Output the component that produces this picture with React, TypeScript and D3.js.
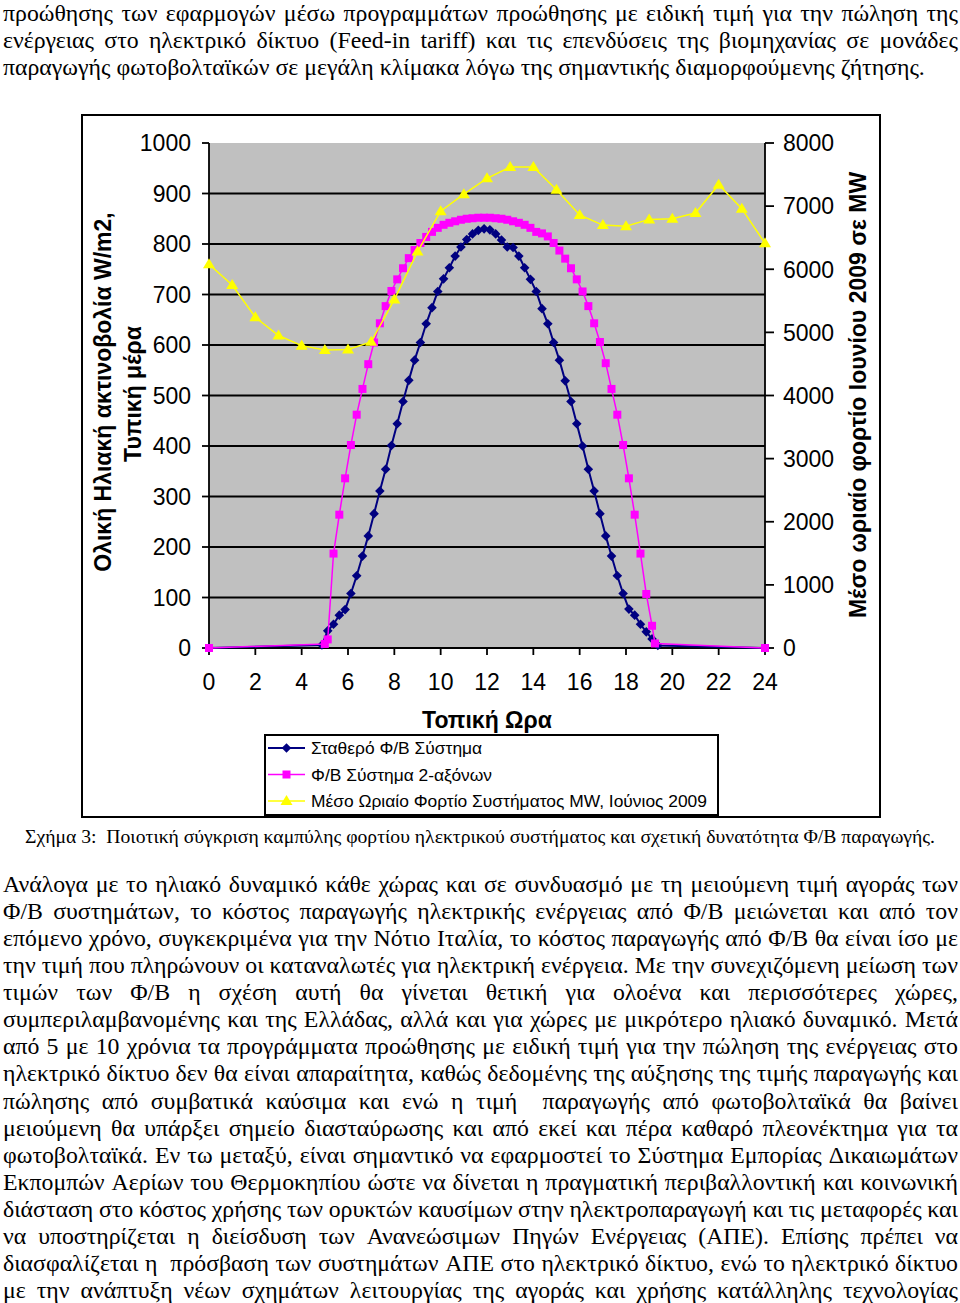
import React, { useMemo } from 'react';
import * as d3 from 'd3';

// ---------------- DATA ----------------
const xTicks = [0, 2, 4, 6, 8, 10, 12, 14, 16, 18, 20, 22, 24];
const leftTicks = [0, 100, 200, 300, 400, 500, 600, 700, 800, 900, 1000];
const rightTicks = [0, 1000, 2000, 3000, 4000, 5000, 6000, 7000, 8000];

const seriesNames = [
  'Σταθερό Φ/Β Σύστημα',
  'Φ/Β Σύστημα 2-αξόνων',
  'Μέσο Ωριαίο Φορτίο Συστήματος MW, Ιούνιος 2009',
];

// Fixed PV system (W/m2)
const fixedHours = [
  0, 4.875, 5.125, 5.375, 5.625, 5.875, 6.125, 6.375, 6.625, 6.875, 7.125, 7.375, 7.625, 7.875,
  8.125, 8.375, 8.625, 8.875, 9.125, 9.375, 9.625, 9.875, 10.125, 10.375, 10.625, 10.875,
  11.125, 11.375, 11.625, 11.875, 12.125, 12.375, 12.625, 12.875, 13.125, 13.375, 13.625,
  13.875, 14.125, 14.375, 14.625, 14.875, 15.125, 15.375, 15.625, 15.875, 16.125, 16.375,
  16.625, 16.875, 17.125, 17.375, 17.625, 17.875, 18.125, 18.375, 18.625, 18.875, 19.125,
  19.375, 24,
];
const fixedValues = [
  0, 6, 34, 47, 65, 76, 108, 143, 182, 222, 266, 311, 354, 401,
  444, 488, 530, 570, 605, 642, 674, 706, 731, 753, 776, 794,
  809, 820, 827, 830, 828, 820, 808, 794, 793, 776, 753,
  730, 706, 672, 642, 605, 570, 529, 488, 444, 400, 354,
  311, 266, 222, 182, 143, 108, 77, 65, 47, 32, 18,
  5, 0,
];

// 2-axis tracking PV system (W/m2)
const trackHours = [
  0, 5.0, 5.125, 5.375, 5.625, 5.875, 6.125, 6.375, 6.625, 6.875, 7.125, 7.375, 7.625, 7.875,
  8.125, 8.375, 8.625, 8.875, 9.125, 9.375, 9.625, 9.875, 10.125, 10.375, 10.625, 10.875,
  11.125, 11.375, 11.625, 11.875, 12.125, 12.375, 12.625, 12.875, 13.125, 13.375, 13.625,
  13.875, 14.125, 14.375, 14.625, 14.875, 15.125, 15.375, 15.625, 15.875, 16.125, 16.375,
  16.625, 16.875, 17.125, 17.375, 17.625, 17.875, 18.125, 18.375, 18.625, 18.875, 19.125,
  19.25, 24,
];
const trackValues = [
  0, 8, 17, 187, 264, 336, 402, 462, 513, 562, 605, 643, 677, 707,
  730, 752, 772, 788, 802, 814, 824, 832, 838, 842, 845, 848,
  850, 851, 852, 852, 852, 851, 850, 848, 845, 842, 838,
  832, 824, 821, 815, 802, 787, 771, 752, 730, 706, 677,
  643, 606, 564, 513, 462, 402, 336, 264, 187, 107, 44,
  9, 0,
];

// Mean hourly system load, June 2009 (MW)
const loadHours = [0, 1, 2, 3, 4, 5, 6, 7, 8, 9, 10, 11, 12, 13, 14, 15, 16, 17, 18, 19, 20, 21, 22, 23, 24];
const loadValues = [
  6080, 5750, 5240, 4950, 4790, 4720, 4730, 4850, 5520, 6280, 6920, 7190, 7440,
  7620, 7620, 7260, 6860, 6700, 6680, 6790, 6800, 6890, 7340, 6960, 6410,
];

// ---------------- TEXT ----------------
const topLines = [
  'προώθησης των εφαρμογών μέσω προγραμμάτων προώθησης με ειδική τιμή για την πώληση της',
  'ενέργειας στο ηλεκτρικό δίκτυο (Feed-in tariff) και τις επενδύσεις της βιομηχανίας σε μονάδες',
  'παραγωγής φωτοβολταϊκών σε μεγάλη κλίμακα λόγω της σημαντικής διαμορφούμενης ζήτησης.',
];
const captionText =
  'Σχήμα 3:  Ποιοτική σύγκριση καμπύλης φορτίου ηλεκτρικού συστήματος και σχετική δυνατότητα Φ/Β παραγωγής.';
const bodyLines = [
  'Ανάλογα με το ηλιακό δυναμικό κάθε χώρας και σε συνδυασμό με τη μειούμενη τιμή αγοράς των',
  'Φ/Β συστημάτων, το κόστος παραγωγής ηλεκτρικής ενέργειας από Φ/Β μειώνεται και από τον',
  'επόμενο χρόνο, συγκεκριμένα για την Νότιο Ιταλία, το κόστος παραγωγής από Φ/Β θα είναι ίσο με',
  'την τιμή που πληρώνουν οι καταναλωτές για ηλεκτρική ενέργεια. Με την συνεχιζόμενη μείωση των',
  'τιμών των Φ/Β η σχέση αυτή θα γίνεται θετική για ολοένα και περισσότερες χώρες,',
  'συμπεριλαμβανομένης και της Ελλάδας, αλλά και για χώρες με μικρότερο ηλιακό δυναμικό. Μετά',
  'από 5 με 10 χρόνια τα προγράμματα προώθησης με ειδική τιμή για την πώληση της ενέργειας στο',
  'ηλεκτρικό δίκτυο δεν θα είναι απαραίτητα, καθώς δεδομένης της αύξησης της τιμής παραγωγής και',
  'πώλησης από συμβατικά καύσιμα και ενώ η τιμή  παραγωγής από φωτοβολταϊκά θα βαίνει',
  'μειούμενη θα υπάρξει σημείο διασταύρωσης και από εκεί και πέρα καθαρό πλεονέκτημα για τα',
  'φωτοβολταϊκά. Εν τω μεταξύ, είναι σημαντικό να εφαρμοστεί το Σύστημα Εμπορίας Δικαιωμάτων',
  'Εκπομπών Αερίων του Θερμοκηπίου ώστε να δίνεται η πραγματική περιβαλλοντική και κοινωνική',
  'διάσταση στο κόστος χρήσης των ορυκτών καυσίμων στην ηλεκτροπαραγωγή και τις μεταφορές και',
  'να υποστηρίζεται η διείσδυση των Ανανεώσιμων Πηγών Ενέργειας (ΑΠΕ). Επίσης πρέπει να',
  'διασφαλίζεται η  πρόσβαση των συστημάτων ΑΠΕ στο ηλεκτρικό δίκτυο, ενώ το ηλεκτρικό δίκτυο',
  'με την ανάπτυξη νέων σχημάτων λειτουργίας της αγοράς και χρήσης κατάλληλης τεχνολογίας',
];

// ---------------- STYLE ----------------
const SERIF = "'Liberation Serif', 'Times New Roman', serif";
const SANS = "'Liberation Sans', Arial, sans-serif";
const BLUE = '#000080';
const MAGENTA = '#FF00FF';
const YELLOW = '#FFFF00';
const BODY_FS = 24;

function JustifiedLine({ text, y, x0, x1, fontSize, hs, justify, measure }: any) {
  const font = `${fontSize}px ${SERIF}`;
  const words = text.split(' ');
  const widths = words.map((w: string) => measure(w, font) * hs);
  const total = widths.reduce((a: number, b: number) => a + b, 0);
  const spaceW = measure(' ', font) * hs;
  let gap = justify && words.length > 1 ? (x1 - x0 - total) / (words.length - 1) : spaceW;
  let k = 1;
  if (justify && gap < spaceW * 0.6) {
    gap = spaceW * 0.6;
    k = (x1 - x0) / (total + gap * (words.length - 1));
  }
  let cx = x0;
  const xs: number[] = [];
  words.forEach((w: string, i: number) => {
    xs.push(cx);
    cx += (widths[i] + gap) * k;
  });
  const sx = hs * k;
  return (
    <text y={y} transform={`scale(${sx},1)`} fontFamily={SERIF} fontSize={fontSize} fill="#000">
      {words.map((w: string, i: number) =>
        w ? (
          <tspan key={i} x={xs[i] / sx}>
            {w}
          </tspan>
        ) : null
      )}
    </text>
  );
}

function diamondPath(r: number) {
  return `M0,${-r}L${r},0L0,${r}L${-r},0Z`;
}
function squarePath(s: number) {
  const h = s / 2;
  return `M${-h},${-h}H${h}V${h}H${-h}Z`;
}
function trianglePath(w: number, h: number) {
  return `M0,${-h * 0.6}L${w / 2},${h * 0.4}L${-w / 2},${h * 0.4}Z`;
}

export default function App() {
  const measure = useMemo(() => {
    const ctx = document.createElement('canvas').getContext('2d') as CanvasRenderingContext2D;
    return (t: string, font: string) => {
      ctx.font = font;
      return ctx.measureText(t).width;
    };
  }, []);

  // horizontal condensation: first body line sits almost tight on the full measure
  const natural = measure(bodyLines[0], `${BODY_FS}px ${SERIF}`);
  const hs = Math.max(0.8, Math.min(1, 930 / natural));

  const x = d3.scaleLinear().domain([0, 24]).range([209, 765]);
  const yL = d3.scaleLinear().domain([0, 1000]).range([648, 143]);
  const yR = d3.scaleLinear().domain([0, 8000]).range([648, 143]);

  const fixedPts = fixedHours.map((h, i) => [x(h), yL(fixedValues[i])] as [number, number]);
  const trackPts = trackHours.map((h, i) => [x(h), yL(trackValues[i])] as [number, number]);
  const loadPts = loadHours.map((h, i) => [x(h), yR(loadValues[i])] as [number, number]);
  const line = d3.line();

  const dPath = diamondPath(4.8);
  const sPath = squarePath(8);
  const tPath = trianglePath(12, 10);

  const legendRows = [
    { name: seriesNames[0], color: BLUE, marker: dPath, width: 2 },
    { name: seriesNames[1], color: MAGENTA, marker: sPath, width: 1.5 },
    { name: seriesNames[2], color: YELLOW, marker: tPath, width: 1.5 },
  ];

  const TICK_FS = 23;
  const TITLE_FS = 23;

  return (
    <svg
      width={960}
      height={1303}
      viewBox="0 0 960 1303"
      style={{ position: 'absolute', left: 0, top: 0, background: '#fff' }}
    >
      <rect x={0} y={0} width={960} height={1303} fill="#fff" />

      {/* top paragraph */}
      {topLines.map((t, i) => (
        <JustifiedLine
          key={'t' + i}
          text={t}
          y={21 + i * 27.1}
          x0={3}
          x1={958}
          fontSize={BODY_FS}
          hs={hs}
          justify={i < 2}
          measure={measure}
        />
      ))}

      {/* chart frame */}
      <rect x={82} y={115} width={798} height={702} fill="#fff" stroke="#000" strokeWidth={2} />

      {/* plot area */}
      <rect x={x(0)} y={yL(1000)} width={x(24) - x(0)} height={yL(0) - yL(1000)} fill="#C0C0C0" />
      {leftTicks
        .filter((t) => t > 0 && t < 1000)
        .map((t) => (
          <line key={'g' + t} x1={x(0)} x2={x(24)} y1={yL(t)} y2={yL(t)} stroke="#000" strokeWidth={1.8} />
        ))}

      {/* axes */}
      <line x1={x(0)} x2={x(0)} y1={yL(1000)} y2={yL(0)} stroke="#000" strokeWidth={1.8} />
      <line x1={x(24)} x2={x(24)} y1={yL(1000)} y2={yL(0)} stroke="#000" strokeWidth={1.8} />
      <line x1={x(0)} x2={x(24)} y1={yL(0)} y2={yL(0)} stroke="#000" strokeWidth={1.8} />
      {leftTicks.map((t) => (
        <g key={'lt' + t}>
          <line x1={x(0) - 7} x2={x(0)} y1={yL(t)} y2={yL(t)} stroke="#000" strokeWidth={1.8} />
          <text x={191} y={yL(t)} dy="0.36em" textAnchor="end" fontFamily={SANS} fontSize={TICK_FS}>
            {t}
          </text>
        </g>
      ))}
      {rightTicks.map((t) => (
        <g key={'rt' + t}>
          <line x1={x(24)} x2={x(24) + 9} y1={yR(t)} y2={yR(t)} stroke="#000" strokeWidth={1.8} />
          <text x={783} y={yR(t)} dy="0.36em" textAnchor="start" fontFamily={SANS} fontSize={TICK_FS}>
            {t}
          </text>
        </g>
      ))}
      {xTicks.map((t) => (
        <g key={'xt' + t}>
          <line x1={x(t)} x2={x(t)} y1={yL(0)} y2={yL(0) + 7} stroke="#000" strokeWidth={1.8} />
          <text x={x(t)} y={690} textAnchor="middle" fontFamily={SANS} fontSize={TICK_FS}>
            {t}
          </text>
        </g>
      ))}

      {/* axis titles */}
      <text
        transform="translate(111,392) rotate(-90)"
        textAnchor="middle"
        fontFamily={SANS}
        fontWeight="bold"
        fontSize={TITLE_FS}
      >
        Ολική Ηλιακή ακτινοβολία W/m2,
      </text>
      <text
        transform="translate(141,394) rotate(-90)"
        textAnchor="middle"
        fontFamily={SANS}
        fontWeight="bold"
        fontSize={TITLE_FS}
      >
        Τυπική μέρα
      </text>
      <text
        transform="translate(866,395) rotate(-90)"
        textAnchor="middle"
        fontFamily={SANS}
        fontWeight="bold"
        fontSize={TITLE_FS}
      >
        Μέσο ωριαίο φορτίο Ιουνίου 2009 σε MW
      </text>
      <text x={487} y={728} textAnchor="middle" fontFamily={SANS} fontWeight="bold" fontSize={TITLE_FS}>
        Τοπική Ωρα
      </text>

      {/* series */}
      <path d={line(fixedPts) || ''} fill="none" stroke={BLUE} strokeWidth={2} />
      {fixedPts.map((p, i) => (
        <path key={'f' + i} d={dPath} transform={`translate(${p[0]},${p[1]})`} fill={BLUE} />
      ))}
      <path d={line(trackPts) || ''} fill="none" stroke={MAGENTA} strokeWidth={1.5} />
      {trackPts.map((p, i) => (
        <path key={'s' + i} d={sPath} transform={`translate(${p[0]},${p[1]})`} fill={MAGENTA} />
      ))}
      <path d={line(loadPts) || ''} fill="none" stroke={YELLOW} strokeWidth={1.5} />
      {loadPts.map((p, i) => (
        <path key={'l' + i} d={tPath} transform={`translate(${p[0]},${p[1]})`} fill={YELLOW} />
      ))}

      {/* legend */}
      <rect x={265} y={735} width={453} height={80} fill="#fff" stroke="#000" strokeWidth={2} />
      {legendRows.map((r, i) => {
        const ly = 748 + i * 26.5;
        return (
          <g key={'lg' + i}>
            <line x1={268} x2={305} y1={ly} y2={ly} stroke={r.color} strokeWidth={r.width} />
            <path d={r.marker} transform={`translate(286.5,${ly})`} fill={r.color} />
            <text x={311} y={ly} dy="0.36em" fontFamily={SANS} fontSize={17.4}>
              {r.name}
            </text>
          </g>
        );
      })}

      {/* caption */}
      <text
        x={25}
        y={843}
        fontFamily={SERIF}
        fontSize={18}
        textLength={910}
        lengthAdjust="spacingAndGlyphs"
        xmlSpace="preserve"
      >
        {captionText}
      </text>

      {/* body paragraph */}
      {bodyLines.map((t, i) => (
        <JustifiedLine
          key={'b' + i}
          text={t}
          y={892 + i * 27.07}
          x0={3}
          x1={958}
          fontSize={BODY_FS}
          hs={hs}
          justify={true}
          measure={measure}
        />
      ))}
    </svg>
  );
}
